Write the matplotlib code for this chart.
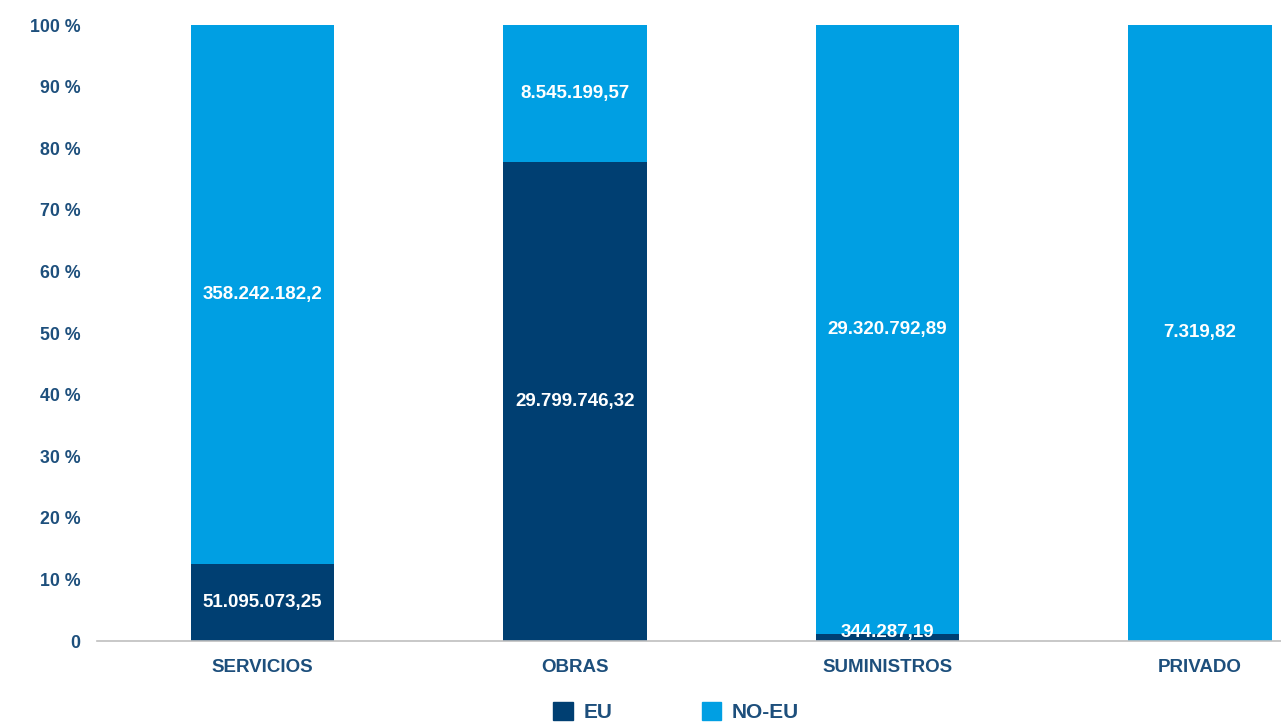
import matplotlib.pyplot as plt
from matplotlib.patches import Patch

plt.rcParams['font.family'] = ['Liberation Sans', 'DejaVu Sans']

categorias = ['SERVICIOS', 'OBRAS', 'SUMINISTROS', 'PRIVADO']
eu = [51095073.25, 29799746.32, 344287.19, 0.0]
no_eu = [358242182.2, 8545199.57, 29320792.89, 7319.82]
etiquetas_eu = ['51.095.073,25', '29.799.746,32', '344.287,19', '']
etiquetas_no_eu = ['358.242.182,2', '8.545.199,57', '29.320.792,89', '7.319,82']

color_eu = '#003f72'
color_no_eu = '#009fe3'
color_texto = '#1d4f7c'

# porcentajes sobre el total de cada categoria
totales = [a + b for a, b in zip(eu, no_eu)]
pct_eu = [100 * a / t for a, t in zip(eu, totales)]
pct_no_eu = [100 * b / t for b, t in zip(no_eu, totales)]

fig = plt.figure(figsize=(12.81, 7.22), dpi=100)
ax = fig.add_axes([97 / 1281, 81 / 722, 1184 / 1281, 616 / 722])

x = range(len(categorias))
ancho = 0.46
ax.bar(x, pct_eu, width=ancho, color=color_eu)
ax.bar(x, pct_no_eu, width=ancho, bottom=pct_eu, color=color_no_eu)

for i in x:
    if etiquetas_eu[i]:
        y = max(pct_eu[i] / 2, 1.3)
        ax.text(i, y, etiquetas_eu[i], ha='center', va='center',
                color='white', fontsize=13.5, fontweight='bold')
    ax.text(i, pct_eu[i] + pct_no_eu[i] / 2, etiquetas_no_eu[i],
            ha='center', va='center', color='white', fontsize=13.5,
            fontweight='bold')

ax.set_xlim(-0.53, 3.26)
ax.set_ylim(0, 100)
ax.set_xticks(list(x))
ax.set_xticklabels(categorias, fontsize=13.5, fontweight='bold', color=color_texto)
ax.set_yticks(range(0, 101, 10))
ax.set_yticklabels(['0'] + [f'{v} %' for v in range(10, 101, 10)],
                   fontsize=12.8, fontweight='bold', color=color_texto)
ax.tick_params(length=0)
ax.tick_params(axis='y', pad=12)
ax.tick_params(axis='x', pad=13)

for lado in ['top', 'right', 'left']:
    ax.spines[lado].set_visible(False)
ax.spines['bottom'].set_color('#bfbfbf')
ax.spines['bottom'].set_linewidth(1.2)

handles = [Patch(color=color_eu, label='EU'), Patch(color=color_no_eu, label='NO-EU')]
leg = fig.legend(handles=handles, loc='center', bbox_to_anchor=(676 / 1281, 10 / 722),
                 ncol=2, frameon=False, handlelength=0.95, handleheight=0.95,
                 handletextpad=0.5, columnspacing=4.3,
                 prop={'size': 15, 'weight': 'bold'})
for t in leg.get_texts():
    t.set_color(color_texto)

fig.savefig('out.png', dpi=100)
